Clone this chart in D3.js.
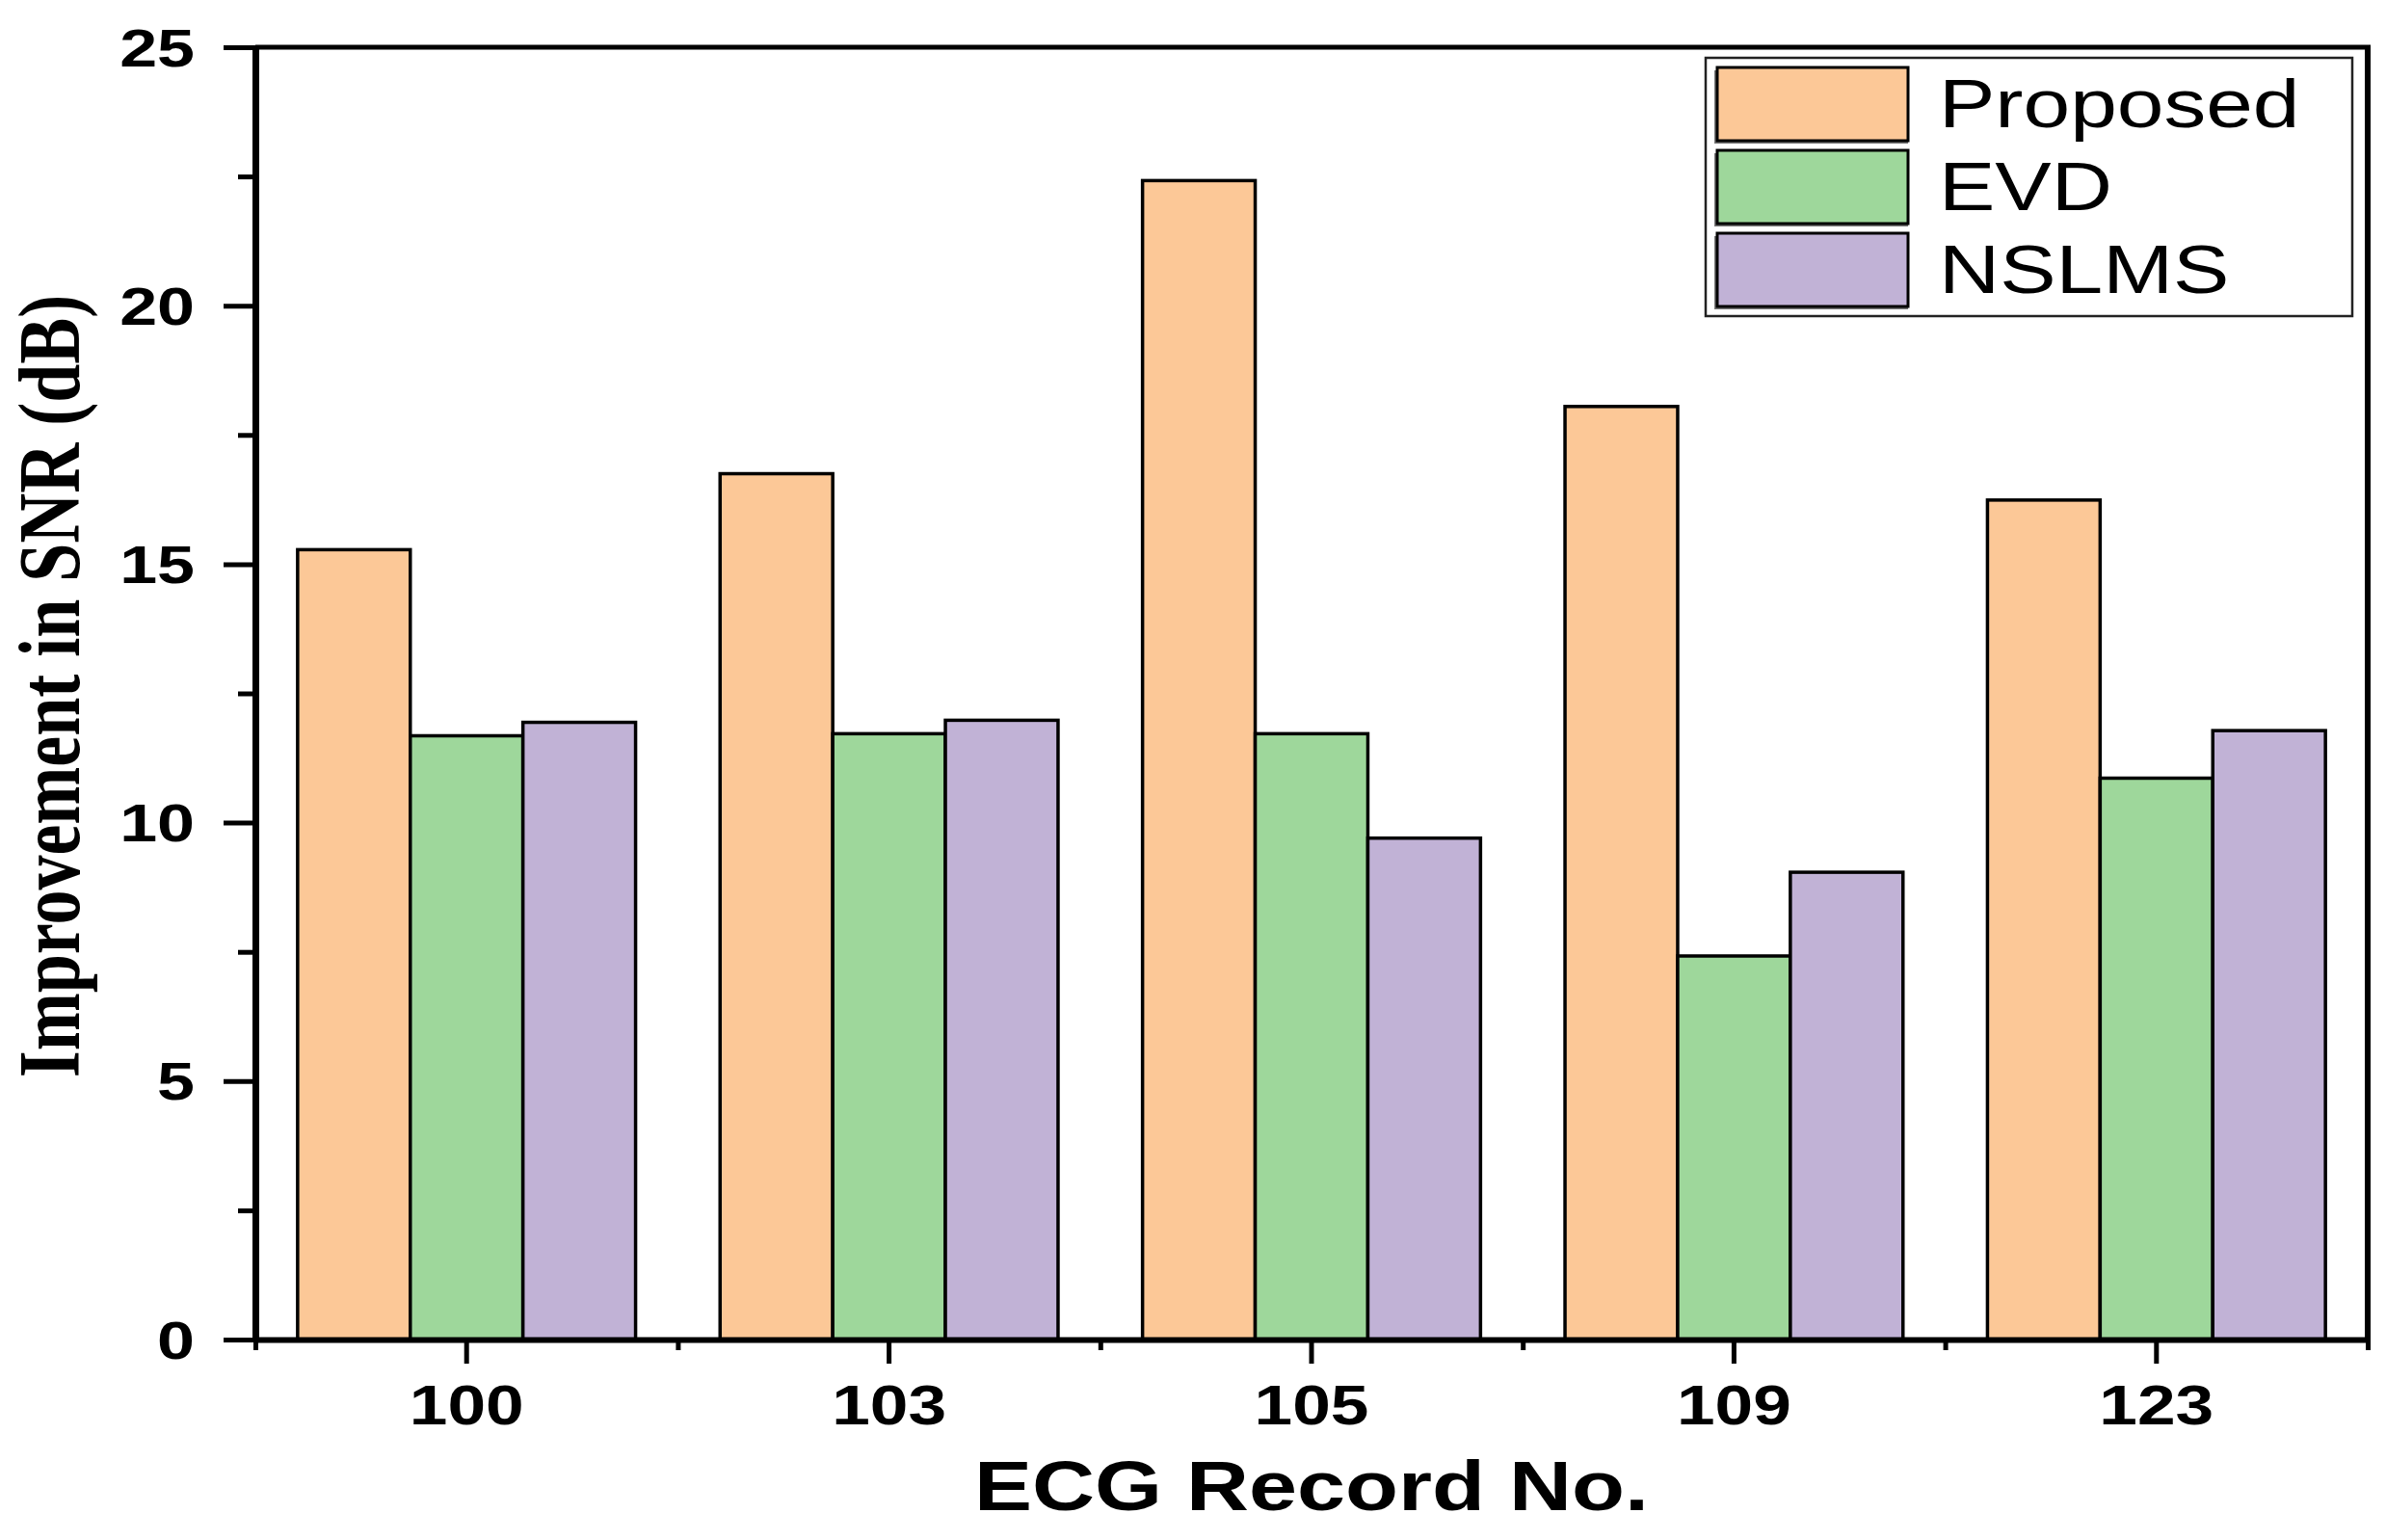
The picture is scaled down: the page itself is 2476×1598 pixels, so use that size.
<!DOCTYPE html>
<html>
<head>
<meta charset="utf-8">
<title>Improvement in SNR</title>
<script src="https://cdn.jsdelivr.net/npm/d3@7/dist/d3.min.js"></script>
<style>
  body { margin: 0; background: #fff; }
  svg { display: block; }
</style>
</head>
<body>
<svg id="chart"></svg>
<script>
// values
var records = ["100", "103", "105", "109", "123"];
var series = ["Proposed", "EVD", "NSLMS"];
var proposed = [15.28, 16.75, 22.42, 18.05, 16.24];
var evd = [11.68, 11.72, 11.72, 7.42, 10.86];
var nslms = [11.94, 11.98, 9.70, 9.04, 11.78];
var yMajor = [0, 5, 10, 15, 20, 25];
var yMinor = [2.5, 7.5, 12.5, 17.5, 22.5];

var colors = ["#fcc897", "#9ed79b", "#c1b2d6"];
var values = [proposed, evd, nslms];

var width = 2476, height = 1598;
// plot area edges (window.top is reserved, hence the prefixes)
var pLeft = 265, pRight = 2457, pTop = 49, pBottom = 1390;
var stretch = 1.25; // the original figure is stretched sideways
var sans = "'Liberation Sans', Arial, sans-serif";
var serif = "'Liberation Serif', 'Times New Roman', serif";

var svg = d3.select("#chart")
    .attr("width", width)
    .attr("height", height);

svg.append("rect").attr("width", width).attr("height", height).attr("fill", "#fff");

var x = d3.scaleBand()
    .domain(records)
    .range([pLeft, pRight])
    .paddingInner(0.2)
    .paddingOuter(0.1);

var xs = d3.scaleBand()
    .domain(series)
    .range([0, x.bandwidth()]);

var xEdge = d3.scaleLinear().domain([0, records.length]).range([pLeft, pRight]);

var y = d3.scaleLinear().domain([0, 25]).range([pBottom, pTop]);

// bars
var rows = [];
records.forEach(function(r, i) {
  series.forEach(function(s, j) {
    rows.push({rec: r, ser: s, v: values[j][i], c: colors[j]});
  });
});

svg.append("g").selectAll("rect")
    .data(rows)
    .enter().append("rect")
    .attr("x", function(d) { return x(d.rec) + xs(d.ser); })
    .attr("y", function(d) { return y(d.v); })
    .attr("width", xs.bandwidth())
    .attr("height", function(d) { return pBottom - y(d.v); })
    .attr("fill", function(d) { return d.c; })
    .attr("stroke", "#000")
    .attr("stroke-width", 3.5);

// frame top and right
svg.append("line").attr("x1", pLeft).attr("x2", pRight + 3).attr("y1", pTop).attr("y2", pTop)
    .attr("stroke", "#000").attr("stroke-width", 5);
svg.append("line").attr("x1", pRight).attr("x2", pRight).attr("y1", pTop).attr("y2", pBottom)
    .attr("stroke", "#000").attr("stroke-width", 6);

// y axis
var gyMinor = svg.append("g").attr("transform", "translate(" + pLeft + ",0)")
    .call(d3.axisLeft(y).tickValues(yMinor).tickSize(18).tickFormat(""));
gyMinor.select(".domain").remove();
gyMinor.selectAll("line").attr("stroke-width", 5);

var gy = svg.append("g").attr("transform", "translate(" + pLeft + ",0)")
    .call(d3.axisLeft(y).tickValues(yMajor).tickSizeInner(33).tickSizeOuter(0));
gy.select(".domain").attr("stroke-width", 7);
gy.selectAll(".tick line").attr("stroke-width", 5);
gy.selectAll(".tick text")
    .attr("x", -63 / stretch)
    .attr("dy", "0.34em")
    .attr("transform", "scale(" + stretch + ",1)")
    .attr("font-family", sans)
    .attr("font-weight", "bold")
    .attr("font-size", 56)
    .attr("fill", "#000");

// x axis
var gxMinor = svg.append("g").attr("transform", "translate(0," + pBottom + ")")
    .call(d3.axisBottom(xEdge).tickValues(d3.range(records.length + 1)).tickSize(11).tickFormat(""));
gxMinor.select(".domain").remove();
gxMinor.selectAll("line").attr("stroke-width", 5);

var gx = svg.append("g").attr("transform", "translate(0," + pBottom + ")")
    .call(d3.axisBottom(x).tickSizeInner(25).tickSizeOuter(0));
gx.select(".domain").attr("stroke-width", 6);
gx.selectAll(".tick line").attr("stroke-width", 5);
gx.selectAll(".tick text")
    .attr("y", 88)
    .attr("dy", 0)
    .attr("transform", "scale(" + stretch + ",1)")
    .attr("font-family", sans)
    .attr("font-weight", "bold")
    .attr("font-size", 57)
    .attr("fill", "#000");

// axis titles
svg.append("text")
    .attr("transform", "translate(" + (pLeft + pRight) / 2 + ",1567) scale(" + stretch + ",1)")
    .attr("text-anchor", "middle")
    .attr("font-family", sans)
    .attr("font-weight", "bold")
    .attr("font-size", 72)
    .text("ECG Record No.");

svg.append("text")
    .attr("transform", "translate(82,712) rotate(-90) scale(1," + stretch + ")")
    .attr("text-anchor", "middle")
    .attr("font-family", serif)
    .attr("font-weight", "bold")
    .attr("font-size", 72)
    .text("Improvement in SNR (dB)");

// legend
var lg = svg.append("g");
lg.append("rect")
    .attr("x", 1770).attr("y", 60).attr("width", 671).attr("height", 268)
    .attr("fill", "#fff").attr("stroke", "#222").attr("stroke-width", 2.5);

var item = lg.selectAll(".item")
    .data(series)
    .enter().append("g")
    .attr("class", "item")
    .attr("transform", function(d, i) { return "translate(0," + (i * 86) + ")"; });

item.append("rect")
    .attr("x", 1779).attr("y", 73).attr("width", 201).attr("height", 76)
    .attr("fill", "#777");
item.append("rect")
    .attr("x", 1782).attr("y", 70).attr("width", 198).attr("height", 76)
    .attr("fill", function(d, i) { return colors[i]; })
    .attr("stroke", "#000").attr("stroke-width", 3);
item.append("text")
    .attr("transform", "translate(2012,132) scale(" + stretch + ",1)")
    .attr("font-family", sans)
    .attr("font-size", 70)
    .attr("fill", "#000")
    .text(function(d) { return d; });
</script>
</body>
</html>
